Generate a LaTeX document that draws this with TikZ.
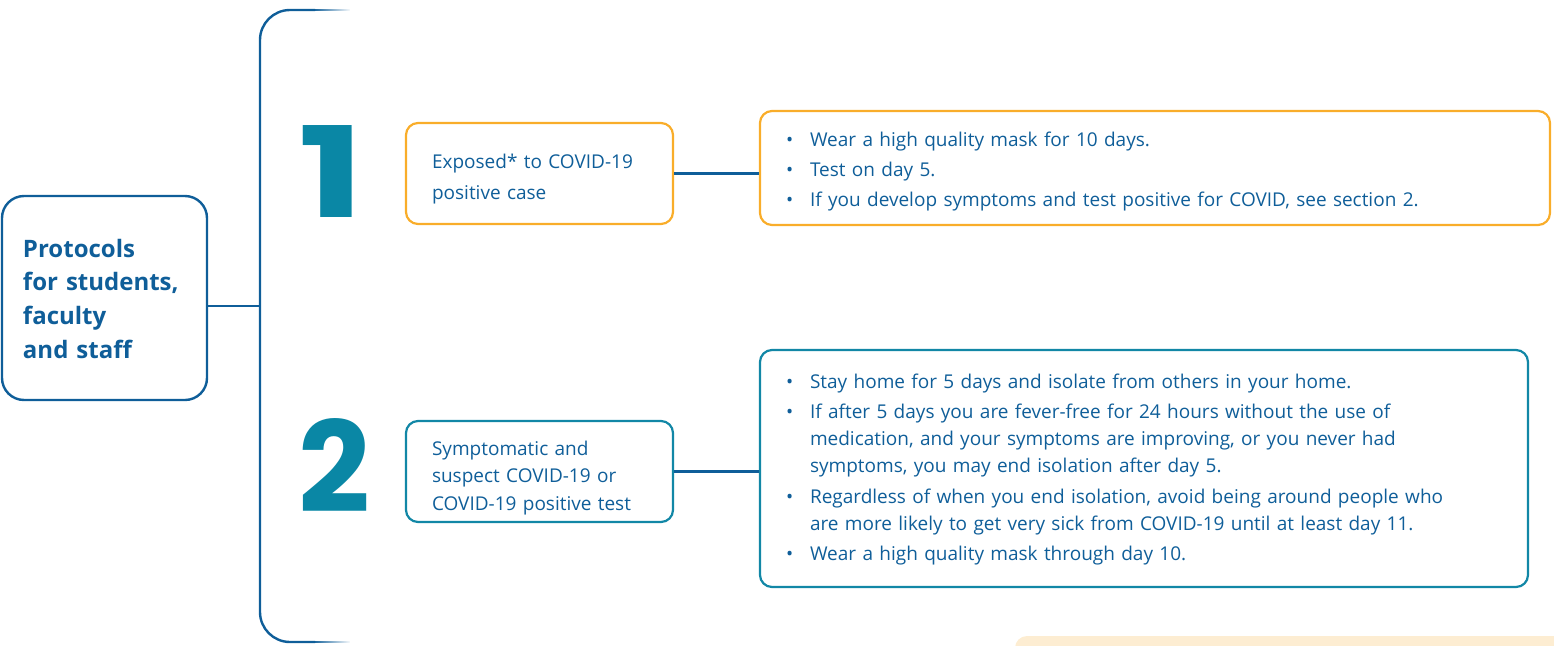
\documentclass[tikz,border=0pt]{standalone}
\usepackage{fontspec}
\setmainfont{Open Sans}
\newfontfamily\numfont{Poppins}
\usetikzlibrary{positioning}
\usetikzlibrary{fadings}
\definecolor{navy}{HTML}{0F5E99}
\definecolor{tealnum}{HTML}{0A87A5}
\definecolor{tealbox}{HTML}{1287A6}
\definecolor{amber}{HTML}{F9AD2A}
\definecolor{peach}{HTML}{FDEDD2}
\newcommand{\bitem}[1]{{\hangindent=26pt\hangafter=1\noindent\makebox[26pt][l]{\hspace{2pt}\textbullet}#1\par}}

\begin{document}
\begin{tikzpicture}[x=1pt, y=-1pt,
  main/.style = {draw=navy, line width=2.4pt, rounded corners=22pt, text=navy, align=left, inner xsep=21pt, inner ysep=0pt, font=\bfseries\fontsize{24}{33.7}\selectfont},
  casebox/.style = {draw=#1, line width=2.2pt, rounded corners=12pt, text=navy, align=left, inner xsep=26pt, inner ysep=0pt},
  stepsbox/.style = {draw=#1, line width=2.2pt, rounded corners=12pt, text=navy, inner xsep=24pt, inner ysep=0pt, font=\fontsize{19}{27}\selectfont},
  bignum/.style = {text=tealnum, font=\numfont\bfseries\fontsize{126}{126}\selectfont, inner sep=0pt},
  link/.style = {draw=navy, line width=2.4pt}]
\useasboundingbox (0,0) rectangle (1554,645);

% background tab at the bottom
\fill[peach, rounded corners=12pt] (1015,636) rectangle (1580,680);

\node[main, text width=163pt, text height=61pt, text depth=143pt] (prot) at (104.5,298) {Protocols\\for students,\\faculty\\and staff};

\coordinate (spine) at (260,306);
\coordinate (top) at (260,10);
\coordinate (bot) at (260,642);

\node[bignum, xscale=1.4] (one) at (332,171.5) {1};
\node[bignum] (two) at (334,465) {2};

\node[casebox=amber, text width=215pt, text height=45pt, text depth=56pt, font=\fontsize{19}{31}\selectfont] (exp) at (539.5,173.5) {Exposed* to COVID-19\\positive case};
\node[casebox=tealbox, text width=215pt, text height=34pt, text depth=67pt, font=\fontsize{19}{27.5}\selectfont] (sym) at (539.5,471.5) {Symptomatic and\\suspect COVID-19 or\\COVID-19 positive test};

\node[stepsbox=amber, text width=742pt, text height=35pt, text depth=79pt] (expsteps) at (1155,168) {\parskip=3pt
\bitem{Wear a high quality mask for 10 days.}
\bitem{Test on day 5.}
\bitem{If you develop symptoms and test positive for COVID, see section 2.}};
\node[stepsbox=tealbox, text width=720pt, text height=38pt, text depth=199pt] (symsteps) at (1144,468.5) {\parskip=3.5pt
\bitem{Stay home for 5 days and isolate from others in your home.}
\bitem{If after 5 days you are fever-free for 24 hours without the use of\newline medication, and your symptoms are improving, or you never had\newline symptoms, you may end isolation after day 5.}
\bitem{Regardless of when you end isolation, avoid being around people who\newline are more likely to get very sick from COVID-19 until at least day 11.}
\bitem{Wear a high quality mask through day 10.}};

% bracket
\draw[link] (prot.east |- spine) -- (spine);
\draw[link, rounded corners=30pt] (315,10) -- (top) -- (bot) -- (315,642);
\draw[link, path fading=east] (314,10) -- (350,10);
\draw[link, path fading=east] (314,642) -- (350,642);

\draw[link] (exp.east) -- (exp.east -| expsteps.west);
\draw[link] (sym.east) -- (sym.east -| symsteps.west);
\end{tikzpicture}
\end{document}
